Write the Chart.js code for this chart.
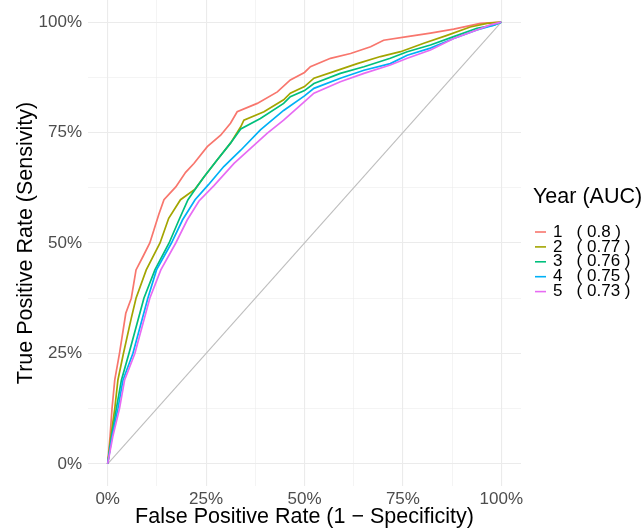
<!DOCTYPE html>
<html>
<head>
<meta charset="utf-8">
<script src="https://cdn.jsdelivr.net/npm/chart.js@4.4.1/dist/chart.umd.min.js"></script>
<style>
  html, body { margin: 0; padding: 0; background: #fff; }
</style>
</head>
<body>
<canvas id="rocChart" width="644" height="531"></canvas>
<script>
/* ===== DATA ===== */
const years = ["1", "2", "3", "4", "5"];
const aucs = ["0.8", "0.77", "0.76", "0.75", "0.73"];
const colors = ["#F8766D", "#A3A500", "#00BF7D", "#00B0F6", "#E76BF3"];

// [false positive rate, true positive rate]
const roc1 = [[0,0],[0.006,0.062],[0.011,0.125],[0.018,0.19],[0.030,0.25],[0.046,0.341],[0.060,0.375],
  [0.072,0.439],[0.090,0.47],[0.107,0.5],[0.130,0.565],[0.143,0.598],[0.173,0.627],[0.198,0.660],
  [0.219,0.68],[0.253,0.718],[0.287,0.744],[0.312,0.771],[0.329,0.797],[0.380,0.816],[0.431,0.842],
  [0.464,0.869],[0.5,0.886],[0.515,0.899],[0.566,0.918],[0.617,0.929],[0.668,0.944],[0.701,0.959],
  [0.761,0.967],[0.820,0.975],[0.879,0.984],[0.947,0.997],[1,1]];
const roc2 = [[0,0],[0.008,0.062],[0.018,0.125],[0.026,0.19],[0.040,0.25],[0.060,0.33],[0.072,0.375],
  [0.098,0.439],[0.133,0.5],[0.155,0.556],[0.185,0.598],[0.222,0.622],[0.245,0.65],[0.278,0.688],
  [0.312,0.726],[0.338,0.763],[0.346,0.778],[0.397,0.797],[0.447,0.824],[0.464,0.839],[0.5,0.854],
  [0.524,0.873],[0.574,0.888],[0.634,0.906],[0.693,0.922],[0.744,0.933],[0.803,0.952],[0.862,0.97],
  [0.921,0.989],[0.964,0.997],[1,1]];
const roc3 = [[0,0],[0.010,0.062],[0.022,0.125],[0.035,0.19],[0.054,0.25],[0.092,0.375],[0.120,0.439],
  [0.156,0.5],[0.181,0.552],[0.204,0.598],[0.225,0.625],[0.245,0.65],[0.278,0.688],[0.312,0.726],
  [0.338,0.758],[0.388,0.782],[0.447,0.816],[0.464,0.831],[0.5,0.845],[0.524,0.861],[0.591,0.884],
  [0.651,0.899],[0.718,0.918],[0.761,0.933],[0.820,0.948],[0.879,0.967],[0.938,0.986],[0.981,0.993],[1,1]];
const roc4 = [[0,0],[0.011,0.062],[0.026,0.125],[0.039,0.19],[0.064,0.25],[0.102,0.375],[0.124,0.439],
  [0.162,0.5],[0.190,0.552],[0.222,0.598],[0.256,0.632],[0.295,0.673],[0.338,0.710],[0.388,0.756],
  [0.447,0.800],[0.5,0.833],[0.524,0.850],[0.591,0.873],[0.651,0.891],[0.718,0.906],[0.761,0.925],
  [0.820,0.941],[0.879,0.963],[0.938,0.982],[0.981,0.993],[1,1]];
const roc5 = [[0,0],[0.013,0.062],[0.030,0.125],[0.043,0.19],[0.069,0.25],[0.107,0.375],[0.135,0.439],
  [0.173,0.5],[0.202,0.552],[0.232,0.595],[0.270,0.630],[0.321,0.680],[0.363,0.714],[0.405,0.748],
  [0.447,0.778],[0.5,0.82],[0.524,0.839],[0.591,0.865],[0.651,0.884],[0.718,0.903],[0.761,0.918],
  [0.820,0.937],[0.879,0.963],[0.938,0.982],[0.97,0.993],[1,1]];
const rocCurves = [roc1, roc2, roc3, roc4, roc5];
const chanceLine = [[0,0],[1,1]];

const gridTicks = [0, 0.125, 0.25, 0.375, 0.5, 0.625, 0.75, 0.875, 1];

/* ===== HELPERS ===== */
const isMajor = v => Math.abs(v * 4 - Math.round(v * 4)) < 1e-9;
const pct = v => isMajor(v) ? Math.round(v * 100) + "%" : "";

Chart.defaults.font.family = "'Liberation Sans', Arial, sans-serif";

/* ===== LEGEND (ggplot style) ===== */
const rocLegend = {
  id: "rocLegend",
  afterDraw(chart) {
    const ctx = chart.ctx;
    ctx.save();
    ctx.textBaseline = "middle";
    ctx.textAlign = "left";
    ctx.fillStyle = "#000";
    ctx.font = "21.5px 'Liberation Sans', Arial, sans-serif";
    ctx.fillText("Year (AUC)", 533, 197);
    ctx.font = "17px 'Liberation Sans', Arial, sans-serif";
    years.forEach((y, i) => {
      const yy = 232 + i * 14.9;
      ctx.strokeStyle = colors[i];
      ctx.lineWidth = 1.6;
      ctx.beginPath();
      ctx.moveTo(535, yy);
      ctx.lineTo(546, yy);
      ctx.stroke();
      ctx.fillText(y + "   ( " + aucs[i] + " )", 553, yy);
    });
    ctx.restore();
  }
};

/* ===== CHART ===== */
const datasets = rocCurves.map((c, i) => ({
  label: years[i] + " ( " + aucs[i] + " )",
  data: c.map(p => ({ x: p[0], y: p[1] })),
  borderColor: colors[i],
  borderWidth: 1.7,
  showLine: true,
  pointRadius: 0,
  fill: false,
  tension: 0,
  order: 5 - i
}));
datasets.push({
  label: "chance",
  data: chanceLine.map(p => ({ x: p[0], y: p[1] })),
  borderColor: "#bebebe",
  borderWidth: 1.1,
  showLine: true,
  pointRadius: 0,
  order: 10
});

function axis(titleText, isX) {
  return {
    type: "linear",
    min: -0.05,
    max: 1.05,
    afterBuildTicks: s => { s.ticks = gridTicks.map(v => ({ value: v })); },
    afterFit: s => {
      if (isX) { s.height = 45; s.paddingLeft = 0; s.paddingRight = 0; }
      else { s.width = 88; s.paddingTop = 0; s.paddingBottom = 0; }
    },
    ticks: {
      callback: v => pct(v),
      autoSkip: false,
      maxRotation: 0,
      color: "#4d4d4d",
      font: { size: 17 },
      padding: isX ? 3 : 6
    },
    grid: {
      color: "#ebebeb",
      lineWidth: c => (c.tick && isMajor(c.tick.value)) ? 1.1 : 0.55,
      drawTicks: false
    },
    border: { display: false },
    title: {
      display: true,
      text: titleText,
      color: "#000",
      font: { size: 21.5 },
      padding: isX ? { top: 0, bottom: 1 } : { top: 13, bottom: 0 }
    }
  };
}

new Chart(document.getElementById("rocChart"), {
  type: "scatter",
  data: { datasets },
  options: {
    responsive: false,
    animation: false,
    layout: { padding: { top: 0, right: 123, bottom: 0, left: 0 } },
    plugins: {
      legend: { display: false },
      tooltip: { enabled: false }
    },
    scales: {
      x: axis("False Positive Rate (1 \u2212 Specificity)", true),
      y: axis("True Positive Rate (Sensivity)", false)
    }
  },
  plugins: [rocLegend]
});
</script>
</body>
</html>
